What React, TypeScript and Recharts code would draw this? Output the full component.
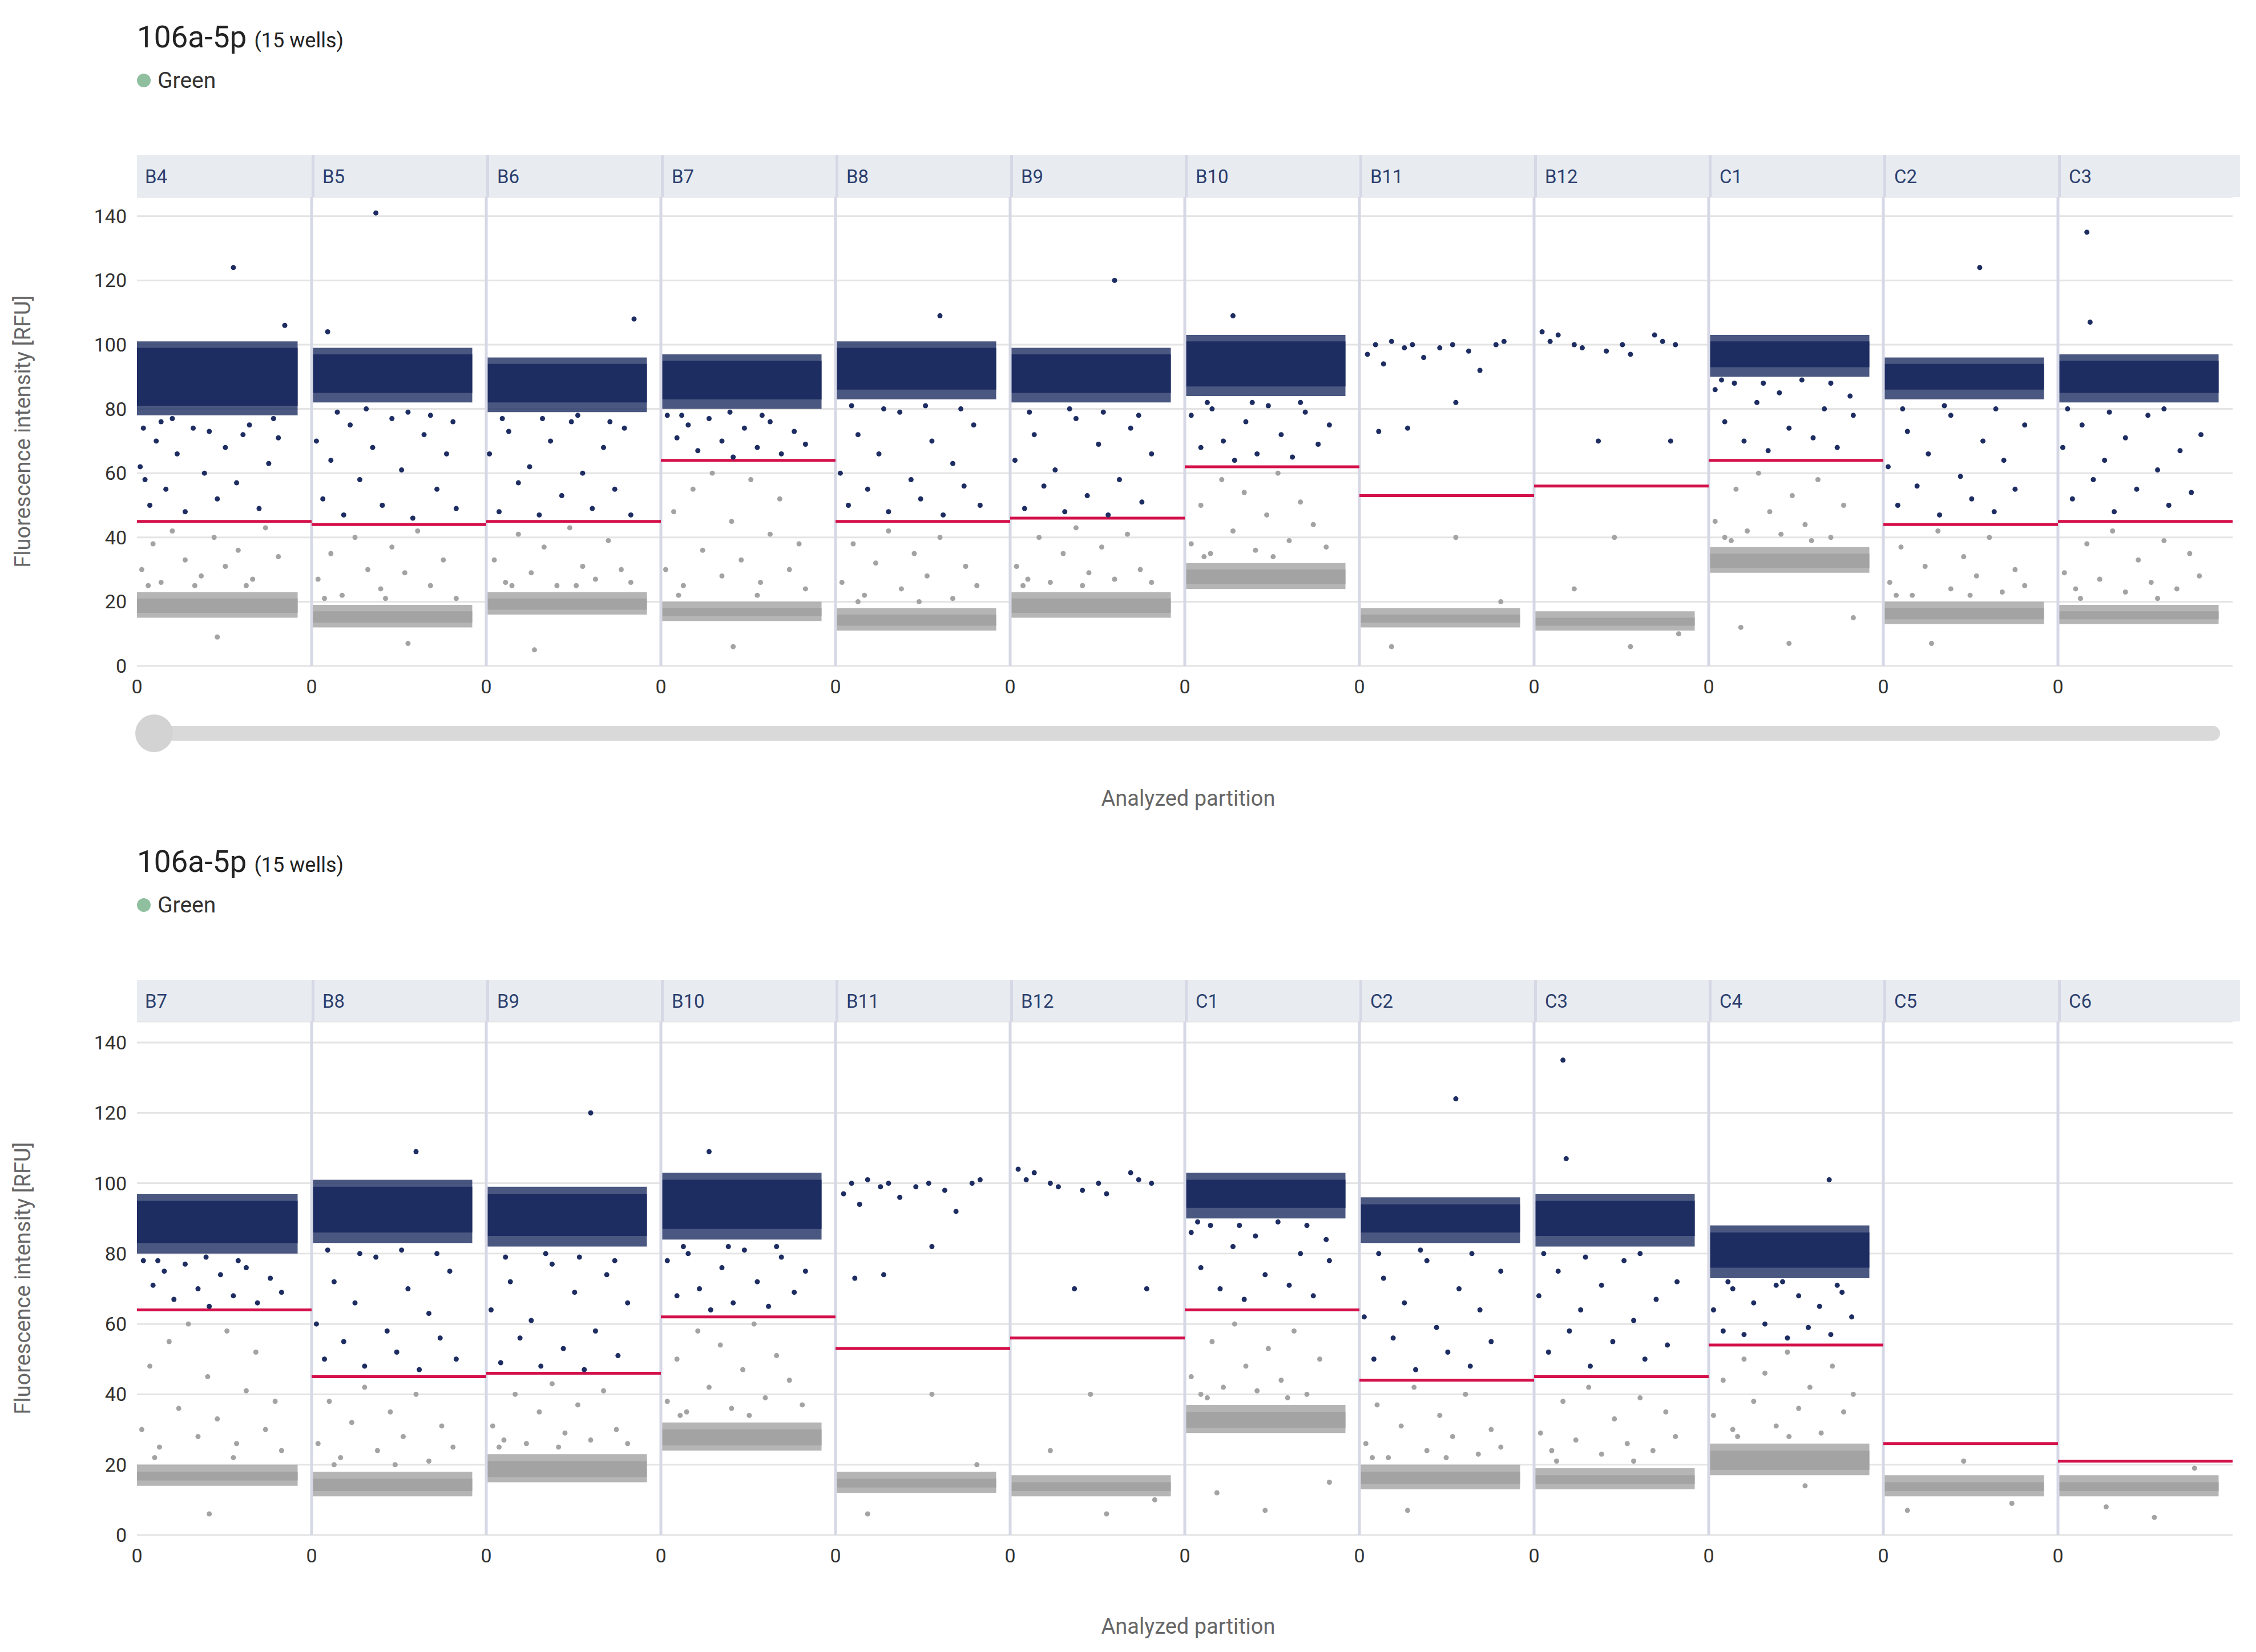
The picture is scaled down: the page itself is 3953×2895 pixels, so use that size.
import {
  ComposedChart,
  Scatter,
  XAxis,
  YAxis,
  CartesianGrid,
  ReferenceArea,
  ReferenceLine,
} from 'recharts'

// wells in plate order
const WELLS = ['B4', 'B5', 'B6', 'B7', 'B8', 'B9', 'B10', 'B11', 'B12', 'C1', 'C2', 'C3', 'C4', 'C5', 'C6']
const PANEL_A = ['B4', 'B5', 'B6', 'B7', 'B8', 'B9', 'B10', 'B11', 'B12', 'C1', 'C2', 'C3']
const PANEL_B = ['B7', 'B8', 'B9', 'B10', 'B11', 'B12', 'C1', 'C2', 'C3', 'C4', 'C5', 'C6']

// dense positive / negative cluster ranges (RFU), null = no cluster
const POS_LO = [78, 82, 79, 80, 83, 82, 84, null, null, 90, 83, 82, 73, null, null]
const POS_HI = [101, 99, 96, 97, 101, 99, 103, null, null, 103, 96, 97, 88, null, null]
const NEG_LO = [15, 12, 16, 14, 11, 15, 24, 12, 11, 29, 13, 13, 17, 11, 11]
const NEG_HI = [23, 19, 23, 20, 18, 23, 32, 18, 17, 37, 20, 19, 26, 17, 17]
const THRESH = [45, 44, 45, 64, 45, 46, 62, 53, 56, 64, 44, 45, 54, 26, 21]
const Y_TICKS = [0, 20, 40, 60, 80, 100, 120, 140]

// sparse droplets [position within well 0..1, RFU]
const POS_RAIN: number[][][] = [
  [[.02,62],[.05,58],[.08,50],[.12,70],[.18,55],[.25,66],[.3,48],[.35,74],[.42,60],[.5,52],[.55,68],[.62,57],[.7,75],[.76,49],[.82,63],[.88,71],[.6,124],[.92,106],[.15,76],[.45,73],[.22,77],[.66,72],[.85,77],[.04,74]],
  [[.03,70],[.07,52],[.12,64],[.2,47],[.24,75],[.3,58],[.38,68],[.44,50],[.5,77],[.56,61],[.63,46],[.7,72],[.78,55],[.84,66],[.9,49],[.4,141],[.1,104],[.6,79],[.16,79],[.34,80],[.74,78],[.88,76]],
  [[.02,66],[.08,48],[.14,73],[.2,57],[.27,62],[.33,47],[.4,70],[.47,53],[.53,76],[.6,60],[.66,49],[.73,68],[.8,55],[.86,74],[.9,47],[.92,108],[.35,77],[.1,77],[.57,78],[.77,76]],
  [[.04,78],[.1,71],[.17,75],[.23,67],[.3,77],[.38,70],[.45,65],[.52,74],[.6,68],[.68,76],[.75,66],[.83,73],[.9,69],[.13,78],[.43,79],[.63,78]],
  [[.03,60],[.08,50],[.14,72],[.2,55],[.27,66],[.33,48],[.4,79],[.47,58],[.53,52],[.6,70],[.67,47],[.73,63],[.8,56],[.86,75],[.9,50],[.65,109],[.1,81],[.3,80],[.56,81],[.78,80]],
  [[.03,64],[.09,49],[.15,72],[.21,56],[.28,61],[.34,48],[.41,77],[.48,53],[.55,69],[.61,47],[.68,58],[.75,74],[.82,51],[.88,66],[.65,120],[.12,79],[.37,80],[.58,79],[.8,78]],
  [[.04,78],[.1,68],[.17,80],[.24,70],[.31,64],[.38,76],[.45,66],[.52,81],[.6,72],[.67,65],[.75,79],[.83,69],[.9,75],[.3,109],[.14,82],[.42,82],[.72,82]],
  [[.05,97],[.1,100],[.15,94],[.2,101],[.28,99],[.33,100],[.4,96],[.5,99],[.58,100],[.68,98],[.75,92],[.85,100],[.9,101],[.12,73],[.3,74],[.6,82]],
  [[.05,104],[.1,101],[.15,103],[.25,100],[.3,99],[.45,98],[.55,100],[.6,97],[.75,103],[.8,101],[.88,100],[.4,70],[.85,70]],
  [[.04,86],[.1,76],[.16,88],[.22,70],[.3,82],[.37,67],[.44,85],[.5,74],[.58,89],[.65,71],[.72,80],[.8,68],[.88,84],[.9,78],[.08,89],[.34,88],[.76,88]],
  [[.03,62],[.09,50],[.15,73],[.21,56],[.28,66],[.35,47],[.42,78],[.48,59],[.55,52],[.62,70],[.69,48],[.75,64],[.82,55],[.88,75],[.6,124],[.12,80],[.38,81],[.7,80]],
  [[.03,68],[.09,52],[.15,75],[.22,58],[.29,64],[.35,48],[.42,71],[.49,55],[.56,78],[.62,61],[.69,50],[.76,67],[.83,54],[.89,72],[.18,135],[.2,107],[.06,80],[.32,79],[.66,80]],
  [[.03,64],[.09,58],[.15,70],[.22,57],[.28,66],[.35,60],[.42,71],[.49,56],[.56,68],[.62,59],[.69,65],[.76,57],[.83,69],[.89,62],[.75,101],[.12,72],[.46,72],[.8,71]],
  [],
  [],
]
const NEG_RAIN: number[][][] = [
  [[.03,30],[.1,38],[.15,26],[.22,42],[.3,33],[.4,28],[.48,40],[.55,31],[.63,36],[.72,27],[.8,43],[.88,34],[.5,9],[.07,25],[.36,25],[.68,25]],
  [[.04,27],[.12,35],[.19,22],[.27,40],[.35,30],[.43,24],[.5,37],[.58,29],[.66,42],[.74,25],[.82,33],[.9,21],[.6,7],[.08,21],[.46,21]],
  [[.05,33],[.12,26],[.2,41],[.28,29],[.36,37],[.44,25],[.52,43],[.6,31],[.68,27],[.76,39],[.84,30],[.9,26],[.3,5],[.16,25],[.56,25]],
  [[.03,30],[.08,48],[.14,25],[.2,55],[.26,36],[.32,60],[.38,28],[.44,45],[.5,33],[.56,58],[.62,26],[.68,41],[.74,52],[.8,30],[.86,38],[.9,24],[.45,6],[.11,22],[.6,22]],
  [[.04,26],[.11,38],[.18,22],[.25,32],[.33,42],[.41,24],[.49,35],[.57,28],[.65,40],[.73,21],[.81,31],[.88,25],[.14,20],[.52,20]],
  [[.04,31],[.11,27],[.18,40],[.25,26],[.33,35],[.41,43],[.49,29],[.57,37],[.65,27],[.73,41],[.81,30],[.88,26],[.08,25],[.45,25]],
  [[.04,38],[.1,50],[.16,35],[.23,58],[.3,42],[.37,54],[.44,36],[.51,47],[.58,60],[.65,39],[.72,51],[.8,44],[.88,37],[.12,34],[.55,34]],
  [[.2,6],[.6,40],[.88,20]],
  [[.25,24],[.6,6],[.9,10],[.5,40]],
  [[.04,45],[.1,40],[.17,55],[.24,42],[.31,60],[.38,48],[.45,41],[.52,53],[.6,44],[.68,58],[.76,40],[.84,50],[.2,12],[.5,7],[.9,15],[.14,39],[.64,39]],
  [[.04,26],[.11,37],[.18,22],[.26,31],[.34,42],[.42,24],[.5,34],[.58,28],[.66,40],[.74,23],[.82,30],[.88,25],[.3,7],[.08,22],[.54,22]],
  [[.04,29],[.11,24],[.18,38],[.26,27],[.34,42],[.42,23],[.5,33],[.58,26],[.66,39],[.74,24],[.82,35],[.88,28],[.14,21],[.62,21]],
  [[.03,34],[.09,44],[.15,30],[.22,50],[.28,38],[.35,46],[.42,31],[.49,52],[.56,36],[.63,42],[.7,29],[.77,48],[.84,35],[.9,40],[.6,14],[.18,28],[.5,28]],
  [[.15,7],[.5,21],[.8,9]],
  [[.3,8],[.6,5],[.85,19]],
]

const NAVY = '#1d2d62'
const GREY = '#a3a3a3'
const RED = '#d3104a'
const FONT = 'Roboto, "Noto Sans", sans-serif'
const PLOT_LEFT = 240
const PLOT_RIGHT = 3912
const STRIP_RIGHT = 3925
const W = 0.92

function Dot(props: any) {
  const { cx, cy, fill } = props
  if (cx == null || cy == null) return null
  return <circle cx={cx} cy={cy} r={4.5} fill={fill} />
}

function Panel({ wells, top, plotH, slider }: { wells: string[]; top: number; plotH: number; slider: boolean }) {
  const idx = wells.map((w) => WELLS.indexOf(w))
  const pos = idx.flatMap((k, col) => POS_RAIN[k].map(([f, y]) => ({ x: col + f * W, y })))
  const neg = idx.flatMap((k, col) => NEG_RAIN[k].map(([f, y]) => ({ x: col + f * W, y })))
  const colW = (PLOT_RIGHT - PLOT_LEFT) / 12
  const stripTop = top + 272
  const chartTop = stripTop + 73
  const chartH = plotH + 100
  const bottom = chartTop + plotH
  return (
    <>
      <div style={{ position: 'absolute', left: PLOT_LEFT, top: top + 34, fontSize: 53, color: '#222' }}>
        106a-5p <span style={{ fontSize: 36 }}>(15 wells)</span>
      </div>
      <div style={{ position: 'absolute', left: PLOT_LEFT, top: top + 118, fontSize: 39, color: '#333', display: 'flex', alignItems: 'center' }}>
        <span style={{ width: 24, height: 24, borderRadius: 12, background: '#8fbf9f', marginRight: 12 }} />
        Green
      </div>
      <div style={{ position: 'absolute', left: PLOT_LEFT, top: stripTop, width: STRIP_RIGHT - PLOT_LEFT, height: 73, background: '#e8ecf1' }}>
        {wells.map((w, i) => (
          <div key={w + i} style={{ position: 'absolute', left: i * colW, top: 0, height: 73, width: colW, borderLeft: i ? '5px solid #d6d8e6' : 'none', boxSizing: 'border-box' }}>
            <span style={{ position: 'absolute', left: 14, top: 18, fontSize: 33, color: '#2c3f6e' }}>{w}</span>
          </div>
        ))}
      </div>
      <div style={{ position: 'absolute', left: 0, top: chartTop }}>
        <ComposedChart width={3953} height={chartH} margin={{ top: 0, right: 3953 - PLOT_RIGHT, bottom: chartH - plotH - 60, left: PLOT_LEFT - 80 }}>
          <CartesianGrid vertical={false} stroke="#e4e4e4" strokeWidth={3} />
          <XAxis type="number" dataKey="x" domain={[0, 12]} ticks={[0, 1, 2, 3, 4, 5, 6, 7, 8, 9, 10, 11]} tickFormatter={() => '0'} axisLine={false} tickLine={false} tick={{ fontSize: 34, fill: '#333', fontFamily: FONT }} tickMargin={18} height={60} />
          <YAxis type="number" dataKey="y" domain={[0, 146]} ticks={Y_TICKS} axisLine={false} tickLine={false} tick={{ fontSize: 34, fill: '#333', fontFamily: FONT }} width={80} tickMargin={12} />
          {wells.slice(1).map((w, i) => (
            <ReferenceLine key={'v' + w} x={i + 1} stroke="#d6d8e6" strokeWidth={5} />
          ))}
          {idx.map((k, col) =>
            NEG_LO[k] != null ? (
              <ReferenceArea key={'n' + col} x1={col} x2={col + W} y1={NEG_LO[k]} y2={NEG_HI[k]} fill={GREY} fillOpacity={0.8} stroke="none" />
            ) : null,
          )}
          {idx.map((k, col) =>
            NEG_LO[k] != null ? (
              <ReferenceArea key={'nc' + col} x1={col} x2={col + W} y1={NEG_LO[k] + 1.5} y2={NEG_HI[k] - 2} fill={GREY} fillOpacity={1} stroke="none" />
            ) : null,
          )}
          {idx.map((k, col) =>
            POS_LO[k] != null ? (
              <ReferenceArea key={'p' + col} x1={col} x2={col + W} y1={POS_LO[k] as number} y2={POS_HI[k] as number} fill={NAVY} fillOpacity={0.8} stroke="none" />
            ) : null,
          )}
          {idx.map((k, col) =>
            POS_LO[k] != null ? (
              <ReferenceArea key={'pc' + col} x1={col} x2={col + W} y1={(POS_LO[k] as number) + 3} y2={(POS_HI[k] as number) - 2} fill={NAVY} fillOpacity={1} stroke="none" />
            ) : null,
          )}
          <Scatter data={neg} fill={GREY} shape={<Dot />} isAnimationActive={false} />
          <Scatter data={pos} fill={NAVY} shape={<Dot />} isAnimationActive={false} />
          {idx.map((k, col) => (
            <ReferenceLine key={'t' + col} segment={[{ x: col, y: THRESH[k] }, { x: col + 1, y: THRESH[k] }]} stroke={RED} strokeWidth={5} />
          ))}
        </ComposedChart>
      </div>
      <div style={{ position: 'absolute', left: 20, top: chartTop + plotH / 2, transform: 'translate(-50%,-50%) rotate(-90deg)', marginLeft: 20, fontSize: 38, color: '#666', whiteSpace: 'nowrap' }}>
        Fluorescence intensity [RFU]
      </div>
      {slider && (
        <>
          <div style={{ position: 'absolute', left: 255, top: bottom + 105, width: 3635, height: 26, borderRadius: 13, background: '#d9d9d9' }} />
          <div style={{ position: 'absolute', left: 237, top: bottom + 85, width: 66, height: 66, borderRadius: 33, background: '#d3d3d3' }} />
        </>
      )}
      <div style={{ position: 'absolute', left: 2082, top: bottom + (slider ? 210 : 138), transform: 'translateX(-50%)', fontSize: 38, color: '#666' }}>
        Analyzed partition
      </div>
    </>
  )
}

export default function App() {
  return (
    <div style={{ position: 'absolute', left: 0, top: 0, width: 3953, height: 2895, background: '#fff', fontFamily: FONT, overflow: 'hidden' }}>
      <Panel wells={PANEL_A} top={0} plotH={822} slider />
      <Panel wells={PANEL_B} top={1445} plotH={900} slider={false} />
    </div>
  )
}
